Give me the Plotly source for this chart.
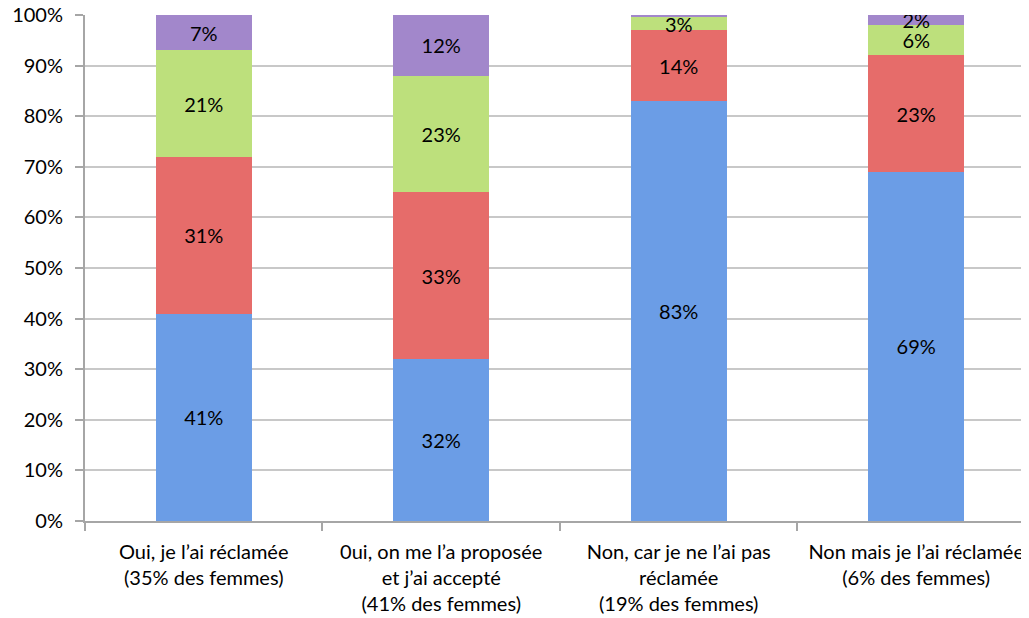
import plotly.graph_objects as go

categories = [
    "Oui, je l’ai réclamée<br>(35% des femmes)",
    "0ui, on me l’a proposée<br>et j’ai accepté<br>(41% des femmes)",
    "Non, car je ne l’ai pas<br>réclamée<br>(19% des femmes)",
    "Non mais je l’ai réclamée<br>(6% des femmes)",
]
blue = [41, 32, 83, 69]
red = [31, 33, 14, 23]
green = [21, 23, 2.6, 6]
purple = [7, 12, 0.4, 2]
y_ticks = list(range(0, 101, 10))
y_tick_labels = [f"{v}%" for v in y_ticks]

series = [
    ("blue", blue, "#6b9de6"),
    ("red", red, "#e66c6a"),
    ("green", green, "#bde07c"),
    ("purple", purple, "#a287cb"),
]

FONT = "Lato, Open Sans, sans-serif"
FS = 20

fig = go.Figure()
for name, vals, col in series:
    texts = [f"{round(v)}%" if v >= 1 else "" for v in vals]
    fig.add_trace(go.Bar(
        x=categories, y=vals, name=name,
        marker=dict(color=col, line=dict(width=0)),
        text=texts, textposition="inside", insidetextanchor="middle",
        textfont=dict(color="black", size=FS, family=FONT),
        textangle=0, constraintext="none",
        width=0.405,
    ))

fig.update_layout(
    barmode="stack",
    width=1029, height=618,
    margin=dict(l=77, r=8, t=7, b=105),
    plot_bgcolor="white", paper_bgcolor="white",
    showlegend=False,
    uniformtext=dict(mode=False),
    font=dict(family=FONT, size=FS, color="black"),
)
fig.update_xaxes(
    type="category", range=[-0.5, 3.475], automargin=False,
    showline=True, linecolor="#a6a6a6", linewidth=2,
    ticks="outside", tickson="boundaries", ticklen=8, tickcolor="#a6a6a6", tickwidth=2,
    tickfont=dict(size=FS, family=FONT, color="black"),
    ticklabelstandoff=12, ticklabeloverflow="allow",
    showgrid=False,
)
fig.update_yaxes(
    range=[0, 100], tickvals=y_ticks, ticktext=y_tick_labels, automargin=False,
    showline=True, linecolor="#a6a6a6", linewidth=2,
    ticks="outside", ticklen=8, tickcolor="#a6a6a6", tickwidth=2,
    ticklabelstandoff=8, ticklabeloverflow="allow",
    showgrid=True, gridcolor="#c8c8c8", gridwidth=2,
    tickfont=dict(size=FS, family=FONT, color="black"),
    zeroline=False,
)

fig.write_html("out.html")
